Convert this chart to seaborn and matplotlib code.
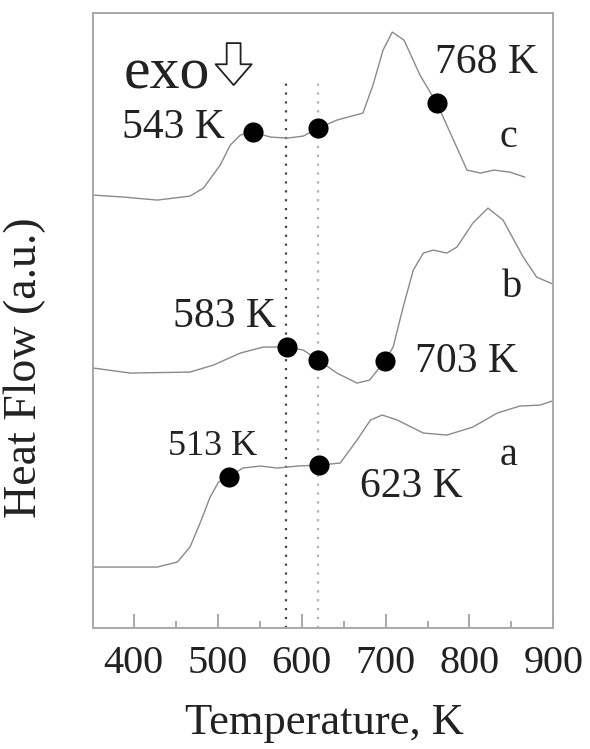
import numpy as np
import pandas as pd
import seaborn as sns
import matplotlib.pyplot as plt

# curve a (bottom)
temp_a = [352, 428, 452, 467, 479, 491, 501, 513, 530, 551, 571, 595, 621, 646, 666,
          682, 696, 714, 745, 773, 804, 833, 860, 884, 902]
flow_a = [61, 61, 66, 81, 105, 131, 146, 151, 160, 162, 160, 162, 163, 165, 188,
          208, 213, 208, 195, 193, 201, 215, 222, 223, 228]

# curve b (middle)
temp_b = [352, 396, 467, 495, 527, 554, 583, 602, 620, 642, 666, 681, 699, 709, 721,
          733, 745, 757, 773, 785, 804, 822, 840, 864, 880, 902]
flow_b = [260, 255, 256, 263, 275, 281, 281, 278, 268, 255, 245, 248, 267, 281, 321,
          358, 375, 378, 375, 381, 405, 420, 408, 371, 351, 343]

# curve c (top)
temp_c = [352, 388, 428, 467, 483, 503, 515, 527, 542, 563, 583, 602, 620, 642, 673,
          685, 697, 708, 722, 741, 761, 781, 797, 813, 829, 848, 866]
flow_c = [433, 431, 428, 432, 440, 463, 483, 493, 496, 491, 490, 492, 500, 508, 515,
          543, 578, 596, 588, 553, 525, 488, 458, 455, 458, 456, 451]

# marked points
dot_temp = [513, 621, 583, 620, 699, 542, 620, 761]
dot_flow = [151, 163, 281, 268, 267, 496, 500, 525]

guide_temps = [581, 620]
guide_colors = ['#444444', '#b0b0b0']

curves = pd.concat([
    pd.DataFrame({'T': temp_a, 'HF': flow_a, 'sample': 'a'}),
    pd.DataFrame({'T': temp_b, 'HF': flow_b, 'sample': 'b'}),
    pd.DataFrame({'T': temp_c, 'HF': flow_c, 'sample': 'c'}),
])
dots = pd.DataFrame({'T': dot_temp, 'HF': dot_flow})

sns.set_theme(style='ticks')
plt.rcParams['font.family'] = ['Liberation Serif', 'DejaVu Serif']

fig = plt.figure(figsize=(5.9, 7.49), dpi=100)
ax = fig.add_axes([0.157, 0.1615, 0.781, 0.821])

for g, c in zip(guide_temps, guide_colors):
    ax.vlines(g, 0, 545, colors=c, linestyles=(0, (1, 3)), linewidth=1.6, zorder=1)

sns.lineplot(data=curves, x='T', y='HF', units='sample', estimator=None,
             color='#8a8a8a', linewidth=1.0, sort=False, ax=ax, zorder=2)
sns.scatterplot(data=dots, x='T', y='HF', color='black', s=210, edgecolor='black',
                linewidth=0, ax=ax, zorder=3)

ax.set_xlim(351, 900)
ax.set_ylim(0, 615)
ax.set_xticks([400, 500, 600, 700, 800, 900])
ax.set_xticks([450, 550, 650, 750, 850], minor=True)
ax.set_yticks([])
ax.tick_params(axis='x', which='major', direction='in', length=10, width=1.2,
               color='#9a9a9a', labelsize=29, pad=12, labelcolor='#222222')
ax.tick_params(axis='x', which='minor', direction='in', length=5, width=1.2,
               color='#9a9a9a')
for s in ax.spines.values():
    s.set_color('#a8a8a8')
    s.set_linewidth(1.4)

ax.set_xlabel('Temperature, K', fontsize=32, color='#222222')
ax.set_ylabel('Heat Flow (a.u.)', fontsize=33, color='#222222')
ax.xaxis.set_label_coords(0.504, -0.122)
ax.yaxis.set_label_coords(-0.10, 0.424)

txt = dict(color='#222222', ha='left', va='baseline')
ax.text(388, 540, 'exo', fontsize=43, **txt)
ax.annotate('', xy=(519, 543), xytext=(519, 585),
            arrowprops=dict(arrowstyle='simple,head_width=26,tail_width=10,head_length=15',
                            mutation_scale=1, fc='white', ec='#222222', lw=1.3,
                            shrinkA=0, shrinkB=0))
ax.text(386, 490, '543 K', fontsize=30, **txt)
ax.text(759, 555, '768 K', fontsize=30, **txt)
ax.text(447, 301, '583 K', fontsize=30, **txt)
ax.text(735, 256, '703 K', fontsize=30, **txt)
ax.text(441, 173, '513 K', fontsize=26, **txt)
ax.text(670, 131, '623 K', fontsize=30, **txt)
ax.text(836, 481, 'c', fontsize=29, **txt)
ax.text(839, 331, 'b', fontsize=29, **txt)
ax.text(836, 163, 'a', fontsize=29, **txt)

fig.savefig('out.png', dpi=100)
